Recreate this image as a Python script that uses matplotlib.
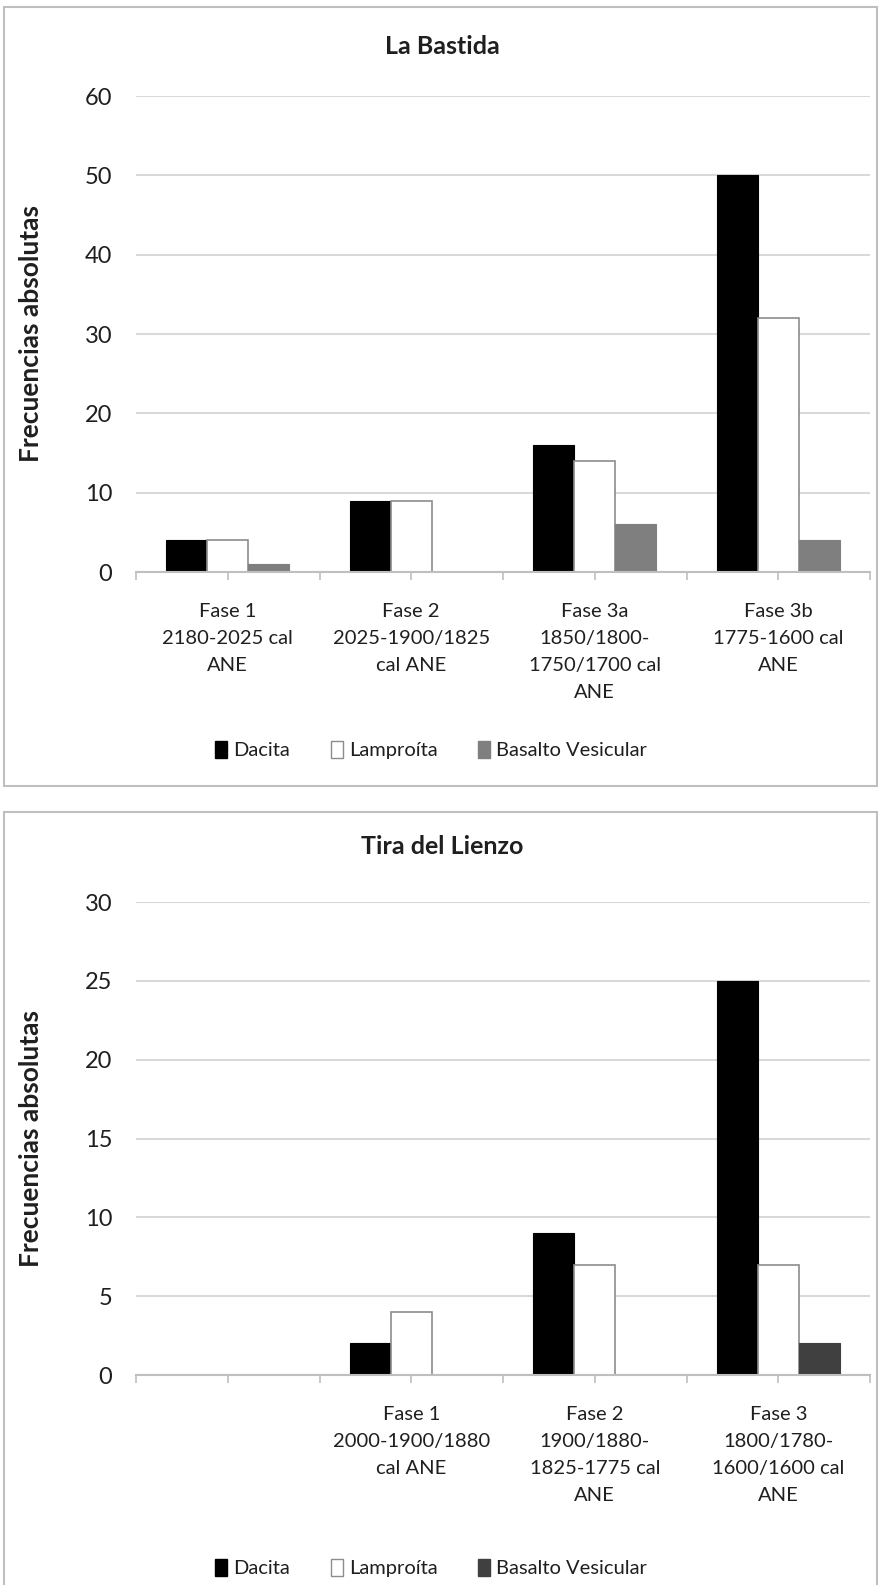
import matplotlib
matplotlib.use("Agg")
import matplotlib.pyplot as plt
from matplotlib.patches import Rectangle, Patch
import numpy as np

plt.rcParams['font.family'] = ['Lato', 'DejaVu Sans']

# ---- data ----
series = ["Dacita", "Lamproíta", "Basalto Vesicular"]

bastida_title = "La Bastida"
bastida_cats = ["Fase 1\n2180-2025 cal\nANE",
                "Fase 2\n2025-1900/1825\ncal ANE",
                "Fase 3a\n1850/1800-\n1750/1700 cal\nANE",
                "Fase 3b\n1775-1600 cal\nANE"]
bastida_dacita = [4, 9, 16, 50]
bastida_lamproita = [4, 9, 14, 32]
bastida_basalto = [1, 0, 6, 4]
bastida_yticks = [0, 10, 20, 30, 40, 50, 60]

tira_title = "Tira del Lienzo"
tira_cats = ["",
             "Fase 1\n2000-1900/1880\ncal ANE",
             "Fase 2\n1900/1880-\n1825-1775 cal\nANE",
             "Fase 3\n1800/1780-\n1600/1600 cal\nANE"]
tira_dacita = [0, 2, 9, 25]
tira_lamproita = [0, 4, 7, 7]
tira_basalto = [0, 0, 0, 2]
tira_yticks = [0, 5, 10, 15, 20, 25, 30]

W, H = 880, 1585
fig = plt.figure(figsize=(W / 100, H / 100), dpi=100)

def fx(px):
    return px / W

def fy(py):
    return 1 - py / H

grid_c = '#d9d9d9'
axis_c = '#bfbfbf'
text_c = '#1f1f1f'

def panel(top_px, bottom_px, title, title_y, cats, d, l, b, yticks, basalto_color, legend_y):
    ax = fig.add_axes([fx(136), fy(bottom_px), fx(870) - fx(136), (bottom_px - top_px) / H])
    x = np.arange(len(cats))
    bw = 0.2234
    ax.bar(x - bw, d, bw, color='black', edgecolor='black', linewidth=0.8, zorder=3)
    ax.bar(x, l, bw, color='white', edgecolor='#8c8c8c', linewidth=1.2, zorder=3)
    ax.bar(x + bw, b, bw, color=basalto_color, edgecolor=basalto_color, linewidth=0.8, zorder=3)
    ax.set_xlim(-0.5, len(cats) - 0.5)
    ax.set_ylim(yticks[0], yticks[-1])
    ax.set_yticks(yticks)
    ax.set_yticklabels([str(t) for t in yticks], fontsize=17, color=text_c)
    ax.tick_params(axis='y', length=0, pad=17)
    ax.set_xticks(x)
    ax.set_xticklabels(cats, fontsize=14.5, color=text_c, linespacing=1.72)
    ax.set_xticks(np.arange(len(cats) + 1) - 0.5, minor=True)
    ax.tick_params(axis='x', which='both', length=6, color=axis_c, width=1.2, pad=16)
    ax.yaxis.grid(True, color=grid_c, linewidth=1.5, zorder=0)
    ax.set_axisbelow(True)
    for s in ['left', 'right', 'top']:
        ax.spines[s].set_visible(False)
    ax.spines['bottom'].set_color(axis_c)
    ax.spines['bottom'].set_linewidth(1.5)
    ax.spines['bottom'].set_zorder(4)
    fig.text(fx(31), (fy(top_px) + fy(bottom_px)) / 2, "Frecuencias absolutas",
             rotation=90, ha='center', va='center', fontsize=19, fontweight='bold', color=text_c)
    fig.text(fx(442), fy(title_y), title, ha='center', va='center',
             fontsize=18, fontweight='bold', color=text_c)
    handles = [Patch(facecolor='black', edgecolor='black'),
               Patch(facecolor='white', edgecolor='#8c8c8c'),
               Patch(facecolor=basalto_color, edgecolor=basalto_color)]
    fig.legend(handles, series, loc='center', bbox_to_anchor=(fx(431), fy(legend_y)),
               ncol=3, frameon=False, fontsize=14.5, handlelength=0.6, handleheight=0.9,
               handletextpad=0.3, columnspacing=2.0, labelcolor=text_c)
    return ax

panel(96, 572, bastida_title, 46, bastida_cats, bastida_dacita, bastida_lamproita,
      bastida_basalto, bastida_yticks, '#7f7f7f', 750)
panel(902, 1375, tira_title, 847, tira_cats, tira_dacita, tira_lamproita,
      tira_basalto, tira_yticks, '#404040', 1568)

# panel borders
fig.patches.append(Rectangle((fx(4), fy(786)), fx(877) - fx(4), fy(7) - fy(786),
                             transform=fig.transFigure, fill=False, edgecolor='#bfbfbf', linewidth=1.5))
fig.patches.append(Rectangle((fx(4), fy(1600)), fx(877) - fx(4), fy(812) - fy(1600),
                             transform=fig.transFigure, fill=False, edgecolor='#bfbfbf', linewidth=1.5,
                             clip_on=False))

fig.savefig("out.png", dpi=100, facecolor='white')
